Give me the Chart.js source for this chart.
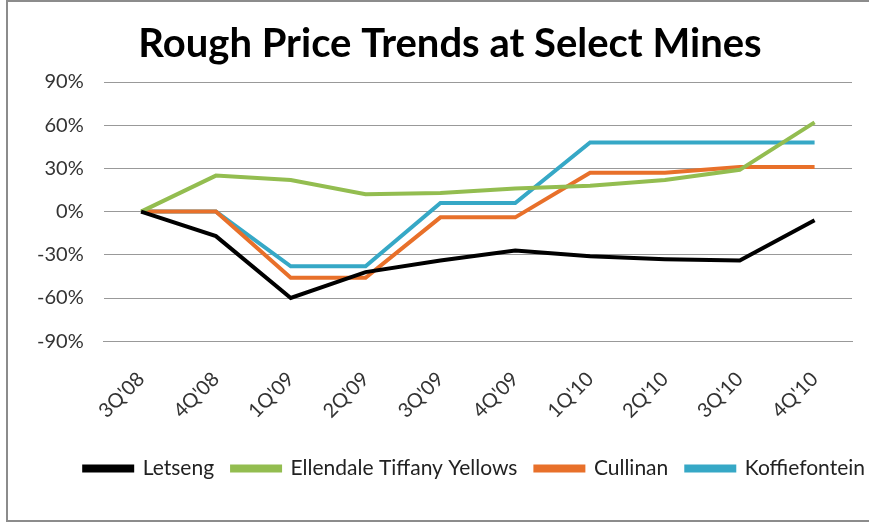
<!DOCTYPE html>
<html lang="en">
<head>
  <meta charset="UTF-8" />
  <title>Rough Price Trends at Select Mines</title>
  <script src="https://cdn.jsdelivr.net/npm/chart.js"></script>
  <style>
    body {
      margin: 0;
      padding: 0;
      background: #fff;
      overflow: hidden;
      width: 869px;
      height: 525px;
      position: relative;
    }
    #frame {
      position: absolute;
      left: 6px;
      top: 0px;
      width: 880px;
      height: 518px;
      border: 2px solid #8c8c8c;
      background: #fff;
    }
    #wrap {
      position: absolute;
      left: 0;
      top: 0;
      width: 875px;
      height: 518px;
    }
  </style>
</head>
<body>
<div id="frame">
  <div id="wrap"><canvas id="chart"></canvas></div>
</div>
<script>
const quarters = ["3Q'08", "4Q'08", "1Q'09", "2Q'09", "3Q'09", "4Q'09", "1Q'10", "2Q'10", "3Q'10", "4Q'10"];

const letseng = [0, -17, -60, -42, -34, -27, -31, -33, -34, -6];
const ellendale = [0, 25, 22, 12, 13, 16, 18, 22, 29, 62];
const cullinan = [0, 0, -46, -46, -4, -4, 27, 27, 31, 31];
const koffiefontein = [0, 0, -38, -38, 6, 6, 48, 48, 48, 48];

const seriesNames = ["Letseng", "Ellendale Tiffany Yellows", "Cullinan", "Koffiefontein"];
const seriesColors = ["#000000", "#93bd50", "#e8702a", "#36a8c6"];

function makeSet(i, values) {
  return {
    label: seriesNames[i],
    data: values,
    borderColor: seriesColors[i],
    backgroundColor: seriesColors[i],
    borderWidth: 4,
    pointRadius: 0,
    tension: 0,
    fill: false
  };
}

new Chart(document.getElementById('chart'), {
  type: 'line',
  data: {
    labels: quarters,
    datasets: [
      makeSet(0, letseng),
      makeSet(1, ellendale),
      makeSet(2, cullinan),
      makeSet(3, koffiefontein)
    ]
  },
  options: {
    responsive: true,
    maintainAspectRatio: false,
    animation: false,
    layout: { padding: { left: 9, right: 0, top: 18, bottom: 31 } },
    plugins: {
      title: {
        display: true,
        text: 'Rough Price Trends at Select Mines',
        color: '#000',
        font: { family: 'Lato', size: 40, weight: 'bold' },
        padding: { top: 0, bottom: 14 }
      },
      legend: {
        position: 'bottom',
        align: 'end',
        labels: {
          color: '#222',
          font: { family: 'Lato', size: 21 },
          boxWidth: 48,
          boxHeight: 4,
          padding: 18
        }
      },
      tooltip: { enabled: false }
    },
    scales: {
      x: {
        offset: true,
        grid: { display: false, drawTicks: false },
        border: { color: '#999', width: 1 },
        ticks: {
          color: '#333',
          font: { family: 'Lato', size: 20 },
          minRotation: 45,
          maxRotation: 45,
          padding: 26
        },
        // labels sit low like the original, without eating the plot height
        afterFit: scale => { scale.height -= 9; }
      },
      y: {
        min: -90,
        max: 90,
        grid: { color: '#999', lineWidth: 1, drawTicks: false },
        border: { display: false },
        ticks: {
          stepSize: 30,
          color: '#333',
          font: { family: 'Lato', size: 20 },
          padding: 20,
          callback: v => v + '%'
        }
      },
      // empty strip on the right so the legend can run past the plot edge
      yRight: {
        position: 'right',
        grid: { display: false },
        border: { display: false },
        ticks: { display: false },
        afterFit: scale => { scale.width = 31; }
      }
    }
  }
});
</script>
</body>
</html>
